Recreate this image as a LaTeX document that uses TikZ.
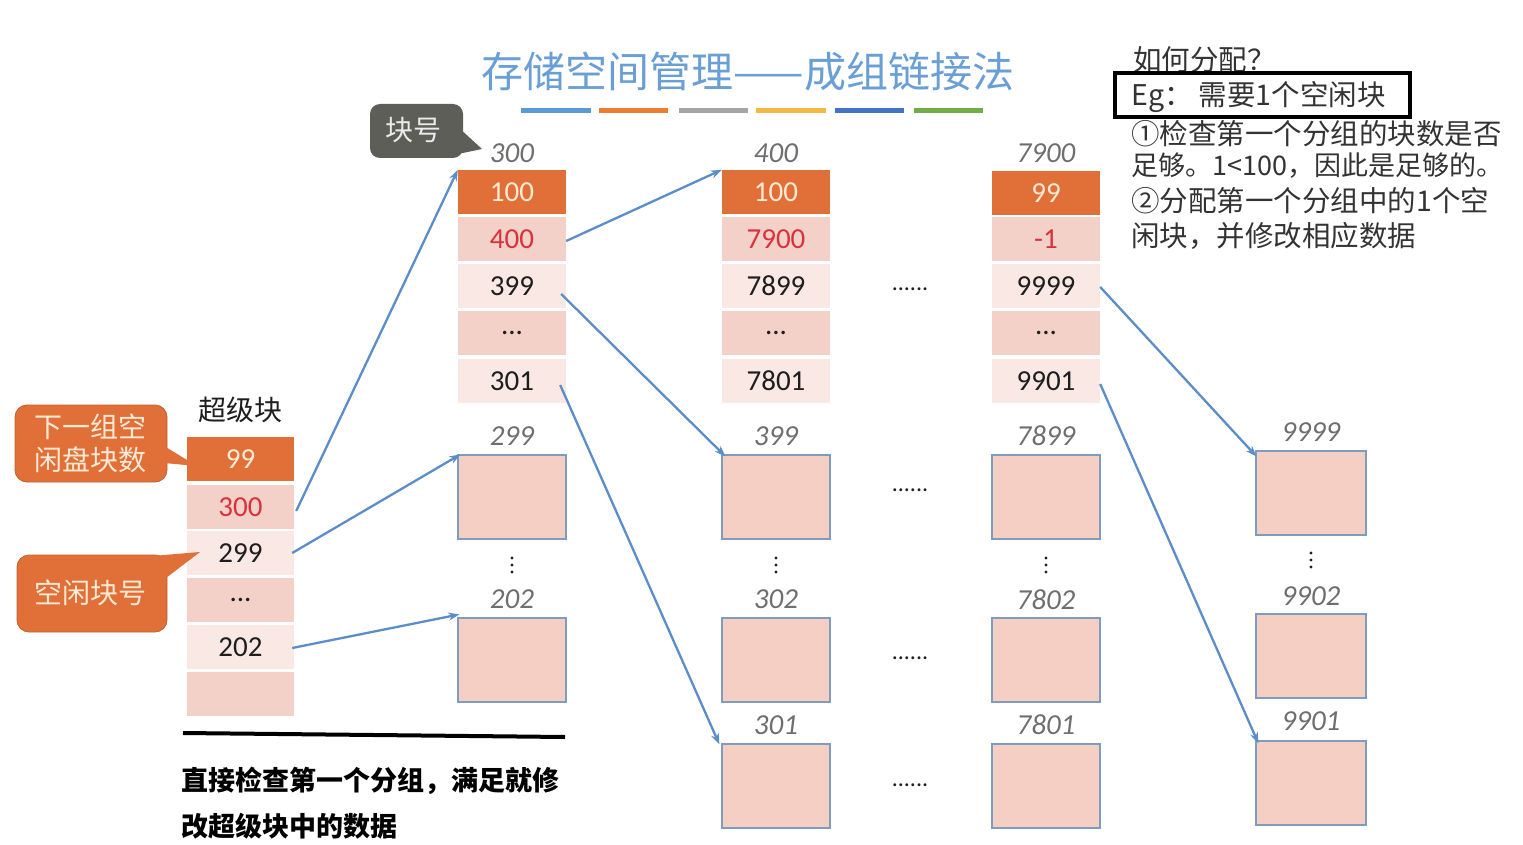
\documentclass[tikz,border=0pt]{standalone}
\usepackage{fontspec}
\setmainfont{Carlito}
\newfontfamily\cjk{Noto Sans CJK SC}
\usetikzlibrary{arrows.meta,calc}
\definecolor{org}{HTML}{E07038}
\definecolor{orgdark}{HTML}{C4602E}
\definecolor{cream}{HTML}{FCE9D6}
\definecolor{pinkD}{HTML}{F3D1C9}
\definecolor{pinkL}{HTML}{F9E8E4}
\definecolor{txt}{HTML}{1E1E1E}
\definecolor{numred}{HTML}{D8323C}
\definecolor{blkfill}{HTML}{F5CFC3}
\definecolor{blkline}{HTML}{7E9CC0}
\definecolor{labgray}{HTML}{6E6E6E}
\definecolor{linkblue}{HTML}{5B8DC8}
\definecolor{titleblue}{HTML}{6A9FD6}
\definecolor{calldark}{HTML}{5E5E58}
\definecolor{barA}{HTML}{5B9BD5}
\definecolor{barB}{HTML}{ED7D31}
\definecolor{barC}{HTML}{A5A5A5}
\definecolor{barD}{HTML}{F4B942}
\definecolor{barE}{HTML}{4472C4}
\definecolor{barF}{HTML}{70AD47}
\definecolor{rtxt}{HTML}{333333}
\newcommand{\fsz}[1]{\fontsize{#1}{#1}\selectfont}
\begin{document}
\begin{tikzpicture}[x=1pt,y=-1pt,
  cell/.style={rectangle, minimum width=108pt, minimum height=44pt, inner sep=0pt, font=\fsz{29}, text=txt},
  ocell/.style={cell, fill=org, text=cream},
  dcell/.style={cell, fill=pinkD},
  lcell/.style={cell, fill=pinkL},
  blk/.style={rectangle, minimum width=108pt, minimum height=84pt, fill=blkfill, draw=blkline, line width=1.2pt, inner sep=0pt},
  lab/.style={font=\fsz{29}\itshape, text=labgray},
  hd/.style={font=\fsz{24}, text=txt},
  vdot/.style={fill=txt},
  link/.style={draw=linkblue, line width=2.3pt, -{Stealth[length=11pt,width=8pt]}},
  rt/.style={anchor=west, font=\cjk\fsz{28.5}, text=rtxt, inner sep=0pt},
]
\useasboundingbox (0,0) rectangle (1523,845);

% title and bars
\node[font=\cjk\fsz{42}, text=titleblue] (title) at (748,72) {存储空间管理——成组链接法};
\fill[barA] (521,108) rectangle (591,113);
\fill[barB] (599,108) rectangle (668,113);
\fill[barC] (679,108) rectangle (748,113);
\fill[barD] (756,108) rectangle (826,113);
\fill[barE] (835,108) rectangle (904,113);
\fill[barF] (914,108) rectangle (983,113);

% callout: block number
\fill[calldark, rounded corners=10pt] (370,104) rectangle (463,158);
\fill[calldark] (458,127) -- (482,149) -- (458,154) -- cycle;
\node[font=\cjk\fsz{28}, text=white!92!black] (kh) at (413,130) {块号};

% super block
\node[font=\cjk\fsz{28}, text=txt] (sbl) at (240,410) {超级块};
\node[ocell, minimum width=107pt] (s1) at (240.5,459) {99};
\node[dcell, minimum width=107pt, text=numred] (s2) at (240.5,507) {300};
\node[lcell, minimum width=107pt] (s3) at (240.5,553) {299};
\node[dcell, minimum width=107pt] (s4) at (240.5,600) {...};
\node[lcell, minimum width=107pt] (s5) at (240.5,647) {202};
\node[dcell, minimum width=107pt] (s6) at (240.5,694) {};

% callouts orange
\draw[fill=org, draw=orgdark, line width=0.8pt, rounded corners=12pt] (15,405) rectangle (167,482);
\fill[org] (164,446) -- (197,466) -- (164,463) -- cycle;
\node[font=\cjk\fontsize{28}{33}\selectfont, text=cream, align=center] (c1) at (90,443) {下一组空\\闲盘块数};
\draw[fill=org, draw=orgdark, line width=0.8pt, rounded corners=12pt] (17,555) rectangle (167,632);
\fill[org] (140,557) -- (200,552) -- (166,578) -- cycle;
\node[font=\cjk\fsz{28}, text=cream] (c2) at (90,593) {空闲块号};

% group 1 (block 300)
\node[lab] (h1) at (512,153) {300};
\node[ocell] (a1) at (512,192) {100};
\node[dcell, text=numred] (a2) at (512,239) {400};
\node[lcell] (a3) at (512,286) {399};
\node[dcell] (a4) at (512,333) {...};
\node[lcell] (a5) at (512,381) {301};

% group 2 (block 400)
\node[lab] (h2) at (776,153) {400};
\node[ocell] (b1) at (776,192) {100};
\node[dcell, text=numred] (b2) at (776,239) {7900};
\node[lcell] (b3) at (776,286) {7899};
\node[dcell] (b4) at (776,333) {...};
\node[lcell] (b5) at (776,381) {7801};

% group 3 (block 7900)
\node[lab] (h3) at (1046,153) {7900};
\node[ocell] (g1) at (1046,193) {99};
\node[dcell, text=numred] (g2) at (1046,239) {-1};
\node[lcell] (g3) at (1046,286) {9999};
\node[dcell] (g4) at (1046,333) {...};
\node[lcell] (g5) at (1046,381) {9901};

% free blocks column A
\node[lab] (lA1) at (512,436) {299};
\node[blk] (A1) at (512,497) {};
\node[lab] (lA2) at (512,599) {202};
\node[blk] (A2) at (512,660) {};

% column B
\node[lab] (lB1) at (776,436) {399};
\node[blk] (B1) at (776,497) {};
\node[lab] (lB2) at (776,599) {302};
\node[blk] (B2) at (776,660) {};
\node[lab] (lB3) at (776,725) {301};
\node[blk] (B3) at (776,786) {};

% column C
\node[lab] (lC1) at (1046,436) {7899};
\node[blk] (C1) at (1046,497) {};
\node[lab] (lC2) at (1046,600) {7802};
\node[blk] (C2) at (1046,660) {};
\node[lab] (lC3) at (1046,725) {7801};
\node[blk] (C3) at (1046,786) {};

% column D
\node[lab] (lD1) at (1311,432) {9999};
\node[blk, minimum width=110pt] (D1) at (1311,493) {};
\node[lab] (lD2) at (1311,596) {9902};
\node[blk, minimum width=110pt] (D2) at (1311,656) {};
\node[lab] (lD3) at (1311,721) {9901};
\node[blk, minimum width=110pt] (D3) at (1311,783) {};

% vertical dots
\foreach \x/\y in {512/565, 776/565, 1046/565, 1311/560}{
  \fill[vdot] (\x,\y-7) circle (1.7);
  \fill[vdot] (\x,\y) circle (1.7);
  \fill[vdot] (\x,\y+7) circle (1.7);
}

% horizontal dots
\node[hd] (d1) at (910,289) {......};
\node[hd] (d2) at (910,490) {......};
\node[hd] (d3) at (910,658) {......};
\node[hd] (d4) at (910,785) {......};

% links
\draw[link] ($(s2.east)+(2,4)$) -- (a1.north west);
\draw[link] ($(s3.east)+(-2,0)$) -- ($(A1.north west)+(3,0)$);
\draw[link] ($(s5.east)+(-2,1)$) -- ($(A2.north west)+(2,-3)$);
\draw[link] ($(a2.east)+(0,2)$) -- (b1.north west);
\draw[link] ($(a3.east)+(-5,8)$) -- ($(B1.north west)+(4,2)$);
\draw[link] ($(a5.east)+(-6,4)$) -- ($(B3.north west)+(-2,1)$);
\draw[link] ($(g3.east)+(0,1)$) -- ($(D1.north west)+(1,6)$);
\draw[link] ($(g5.east)+(0,3)$) -- ($(D3.north west)+(3,3)$);

% right explanation
\node[rt] (q) at (1133,60) {如何分配？};
\node[rt] (eg) at (1131,97) {Eg： 需要1个空闲块};
\draw[line width=3.5pt] (1115,73) rectangle (1410,117);
\node[rt] (r1) at (1131,134) {①检查第一个分组的块数是否};
\node[rt, font=\cjk\fsz{27}] (r2) at (1131,166) {足够。1<100，因此是足够的。};
\node[rt] (r3) at (1131,201) {②分配第一个分组中的1个空};
\node[rt] (r4) at (1131,236) {闲块，并修改相应数据};

% bottom note
\draw[line width=4pt] (183,733) -- (565,737);
\node[anchor=west, inner sep=0pt, font=\cjk\bfseries\fsz{27}, text=black] (n1) at (181,781) {直接检查第一个分组，满足就修};
\node[anchor=west, inner sep=0pt, font=\cjk\bfseries\fsz{27}, text=black] (n2) at (181,826) {改超级块中的数据};
\end{tikzpicture}
\end{document}
